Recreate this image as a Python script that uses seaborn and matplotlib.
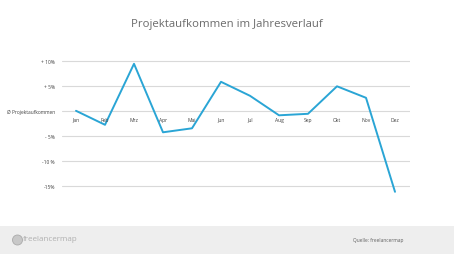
import matplotlib
matplotlib.use("Agg")
import matplotlib.pyplot as plt
import seaborn as sns
import pandas as pd
from matplotlib.patches import Rectangle, Circle

months = ["Jan", "Feb", "Mrz", "Apr", "Mai", "Jun", "Jul", "Aug", "Sep", "Okt", "Nov", "Dez"]
values = [0.1, -2.7, 9.5, -4.2, -3.4, 5.9, 3.1, -0.8, -0.5, 5.0, 2.7, -16.1]
ytick_vals = [10, 5, 0, -5, -10, -15]
ytick_labels = ["+ 10%", "+ 5%", "Ø Projektaufkommen", "- 5%", "-10 %", "-15%"]

sns.set_theme(style="white")
plt.rcParams['font.family'] = ['Open Sans', 'DejaVu Sans']

fig = plt.figure(figsize=(4.54, 2.55), dpi=100)
ax = fig.add_axes([62/454, (255-199.8)/255, 348/454, 145/255])

df = pd.DataFrame({"idx": range(len(months)), "val": values})
sns.lineplot(data=df, x="idx", y="val", ax=ax, color="#2aa5d5", linewidth=1.4)

ax.set_xlim(-14/29, 11 + 15/29)
ax.set_ylim(-17.5, 11.5)
ax.set_yticks(ytick_vals)
ax.set_yticklabels(ytick_labels, fontsize=3.5, color="#404040")
ax.tick_params(axis="y", length=0, pad=5)
ax.set_xticks([])
ax.set_xlabel("")
ax.set_ylabel("")
for s in ax.spines.values():
    s.set_visible(False)
for y in ytick_vals:
    ax.axhline(y, color="#d9d9d9", linewidth=0.8, zorder=0)

for i, m in enumerate(months):
    ax.text(i, -1.6, m, ha="center", va="center", fontsize=3.6, color="#404040")

fig.text(0.5, 1 - 24/255, "Projektaufkommen im Jahresverlauf", ha="center", va="center",
         fontsize=8.2, color="#6b6b6b")

# footer
fig.patches.append(Rectangle((0, 0), 1, 28/255, transform=fig.transFigure,
                             facecolor="#eeeeee", edgecolor="none", zorder=0))
fig.patches.append(Circle((17.5/100, (255-241)/100), 0.05, transform=fig.dpi_scale_trans,
                          facecolor="#c8c8c8", edgecolor="#aaaaaa", linewidth=0.6, zorder=1))
fig.text(23/454, 1 - 240/255, "freelancermap", ha="left", va="center",
         fontsize=5.8, color="#b0b0b0")
fig.text(403/454, 1 - 241/255, "Quelle: freelancermap", ha="right", va="center",
         fontsize=3.5, color="#606060")

fig.savefig("out.png", dpi=100)
